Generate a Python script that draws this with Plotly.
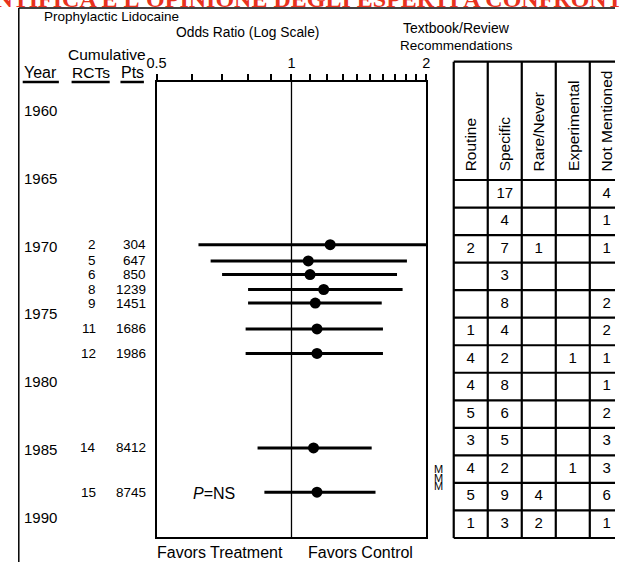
import math
import plotly.graph_objects as go

W, H = 619, 562

# ---------------- data ----------------
years = [1969.9, 1971.1, 1972.1, 1973.2, 1974.2, 1976.1, 1977.9, 1984.85, 1988.1]
cum_rcts = [2, 5, 6, 8, 9, 11, 12, 14, 15]
cum_pts = [304, 647, 850, 1239, 1451, 1686, 1986, 8412, 8745]
odds_ratio = [1.22, 1.09, 1.10, 1.18, 1.13, 1.14, 1.14, 1.12, 1.14]
ci_low = [0.62, 0.66, 0.70, 0.80, 0.80, 0.79, 0.79, 0.84, 0.87]
ci_high = [2.40, 1.81, 1.72, 1.77, 1.59, 1.60, 1.60, 1.51, 1.54]

year_ticks = [1960, 1965, 1970, 1975, 1980, 1985, 1990]
or_tickvals = [0.5, 0.6, 0.7, 0.8, 0.9, 1.0, 1.1, 1.2, 1.3, 1.4, 1.5, 1.6, 1.7, 1.8, 1.9, 2.0]
or_ticktext = ["0.5", "", "", "", "", "1", "", "", "", "", "", "", "", "", "", "2"]

rec_categories = ["Routine", "Specific", "Rare/Never", "Experimental", "Not Mentioned"]
rec_routine = [None, None, 2, None, None, 1, 4, 4, 5, 3, 4, 5, 1]
rec_specific = [17, 4, 7, 3, 8, 4, 2, 8, 6, 5, 2, 9, 3]
rec_rare = [None, None, 1, None, None, None, None, None, None, None, None, 4, 2]
rec_experimental = [None, None, None, None, None, None, 1, None, None, None, 1, None, None]
rec_not_mentioned = [4, 1, 1, None, 2, 2, 1, 1, 2, 3, 3, 6, 1]

# ---------------- helpers ----------------
def px(x):
    return x / W

def py(y):
    return 1 - y / H

FONT = "Liberation Sans, Arial, sans-serif"

Y_TOP, Y_BOT = 1957.94, 1991.40

fig = go.Figure()

# CI lines
lx, ly = [], []
for lo, hi, yr in zip(ci_low, ci_high, years):
    lx += [lo, hi, None]
    ly += [yr, yr, None]
fig.add_trace(go.Scatter(x=lx, y=ly, mode="lines", line=dict(color="black", width=3),
                         xaxis="x", yaxis="y", showlegend=False, hoverinfo="skip"))
# null line at OR=1
fig.add_trace(go.Scatter(x=[1, 1], y=[Y_TOP, Y_BOT], mode="lines", line=dict(color="black", width=1.3),
                         xaxis="x", yaxis="y", showlegend=False, hoverinfo="skip"))
# point estimates
fig.add_trace(go.Scatter(x=odds_ratio, y=years, mode="markers", marker=dict(color="black", size=11),
                         xaxis="x", yaxis="y", showlegend=False))

# recommendations table text
cols = [rec_routine, rec_specific, rec_rare, rec_experimental, rec_not_mentioned]
tx, ty, tt = [], [], []
for c, col in enumerate(cols):
    for r, v in enumerate(col):
        if v is not None:
            tx.append(c + 0.5)
            ty.append(r + 0.5)
            tt.append(str(v))
fig.add_trace(go.Scatter(x=tx, y=ty, text=tt, mode="text", textposition="middle center",
                         textfont=dict(family=FONT, size=15, color="black"),
                         xaxis="x2", yaxis="y2", showlegend=False, cliponaxis=False))

n_rows = len(rec_specific)
HDR_TOP = -4.295
shapes = []
for c in range(len(rec_categories) + 1):
    shapes.append(dict(type="line", xref="x2", yref="y2", x0=c, x1=c, y0=HDR_TOP, y1=n_rows,
                       line=dict(color="black", width=2.2)))
for r in [HDR_TOP] + list(range(n_rows + 1)):
    shapes.append(dict(type="line", xref="x2", yref="y2", x0=0, x1=len(rec_categories), y0=r, y1=r,
                       line=dict(color="black", width=2.2)))

# frame and underlines
shapes.append(dict(type="line", xref="paper", yref="paper", x0=px(9), x1=px(9), y0=py(8), y1=py(562),
                   line=dict(color="black", width=1.5)))
shapes.append(dict(type="line", xref="paper", yref="paper", x0=px(9), x1=px(619), y0=py(8), y1=py(8),
                   line=dict(color="black", width=1.5)))
for x0, x1 in [(13, 50), (63, 102), (113, 137)]:
    shapes.append(dict(type="line", xref="paper", yref="paper", x0=px(x0), x1=px(x1), y0=py(82), y1=py(82),
                       line=dict(color="black", width=2.5)))

ann = []
def label(text, x, y, size=14, xanchor="center", family=FONT, **kw):
    ann.append(dict(text=text, x=px(x), y=py(y), xref="paper", yref="paper", showarrow=False,
                    xanchor=xanchor, yanchor="middle", font=dict(family=family, size=size, color="black"), **kw))

label("Prophylactic Lidocaine", 103.5, 16, size=13.5)
label("Odds Ratio (Log Scale)", 242.5, 33, size=13.8)
label("Textbook/Review", 456.5, 28, size=14)
label("Recommendations", 457, 45, size=13.5)
label("Cumulative", 99, 55, size=15.5)
label("Year", 31.5, 72, size=16)
label("RCTs", 82.5, 72, size=15.5)
label("Pts", 125, 72, size=16)
label("<i>P</i>=NS", 209, 494, size=16)
label("Favors Treatment", 215, 552, size=16)
label("Favors Control", 359, 552, size=16)
for yy in (469, 477.5, 486):
    label("M", 438, yy, size=11)

# year labels
for yr in year_ticks:
    ann.append(dict(text=str(yr), x=px(12), y=yr, xref="paper", yref="y", showarrow=False,
                    xanchor="left", yanchor="middle", font=dict(family=FONT, size=15, color="black")))
# cumulative counts
for yr, n, p in zip(years, cum_rcts, cum_pts):
    ann.append(dict(text=str(n), x=px(90), y=yr, xref="paper", yref="y", showarrow=False,
                    xanchor="right", yanchor="middle", font=dict(family=FONT, size=13.5, color="black")))
    ann.append(dict(text=str(p), x=px(141), y=yr, xref="paper", yref="y", showarrow=False,
                    xanchor="right", yanchor="middle", font=dict(family=FONT, size=13.5, color="black")))
# rotated table headers
for c, name in enumerate(rec_categories):
    ann.append(dict(text=name, x=c + 0.5, y=-0.25, xref="x2", yref="y2", showarrow=False,
                    textangle=-90, xanchor="center", yanchor="bottom",
                    font=dict(family=FONT, size=15.5, color="black")))
# clipped red banner at the very top
ann.append(dict(text="<b>EVIDENZA SCIENTIFICA E L'OPINIONE DEGLI ESPERTI A CONFRONTO</b>",
                x=px(-209), y=py(-1), xref="paper", yref="paper", showarrow=False,
                xanchor="left", yanchor="middle",
                font=dict(family="Liberation Serif, Times New Roman, serif", size=24, color="#e8321e")))

fig.update_layout(
    width=W, height=H, margin=dict(l=0, r=0, t=0, b=0),
    paper_bgcolor="white", plot_bgcolor="white", showlegend=False,
    xaxis=dict(type="log", range=[math.log10(0.5), math.log10(2)], domain=[px(150), px(426)],
               side="top", anchor="y", showline=True, mirror=True, linewidth=2, linecolor="black",
               ticks="outside", ticklen=6, tickwidth=2, tickcolor="black",
               tickvals=or_tickvals, ticktext=or_ticktext, showgrid=False, zeroline=False,
               tickfont=dict(family=FONT, size=14.5, color="black")),
    yaxis=dict(range=[Y_BOT, Y_TOP], domain=[py(537), py(82)], anchor="x",
               showline=True, mirror=True, linewidth=2, linecolor="black",
               showticklabels=False, ticks="", showgrid=False, zeroline=False),
    xaxis2=dict(domain=[px(450), 1], range=[-0.115, 4.741], anchor="y2", visible=False),
    yaxis2=dict(domain=[py(545), py(55)], range=[13.254, -4.539], anchor="x2", visible=False),
    shapes=shapes, annotations=ann,
)

fig.write_html("out.html", config={"displayModeBar": False},
               post_script="document.body.style.margin='0';document.body.style.overflow='hidden';")
